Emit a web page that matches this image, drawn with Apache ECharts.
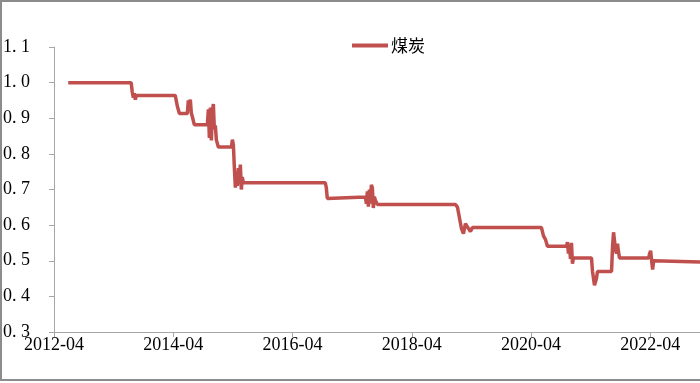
<!DOCTYPE html>
<html>
<head>
<meta charset="utf-8">
<script src="https://cdn.jsdelivr.net/npm/echarts@6/dist/echarts.min.js"></script>
<style>html,body{margin:0;padding:0;background:#fff}#c{width:700px;height:383px}</style>
</head>
<body>
<div id="c"></div>
<script>
const seriesName = '煤炭';
const dates = [
'2012-06-27','2013-07-17','2013-07-23','2013-07-30','2013-08-06','2013-08-12','2013-08-18',
'2014-04-13','2014-04-25','2014-05-08','2014-06-26','2014-07-02','2014-07-08','2014-07-14','2014-07-20','2014-07-26','2014-08-08',
'2014-10-27','2014-11-03','2014-11-09','2014-11-15','2014-11-21','2014-11-27','2014-12-03','2014-12-09','2014-12-15','2014-12-21',
'2015-01-03','2015-03-22','2015-03-28','2015-04-04','2015-04-10','2015-04-16','2015-04-22','2015-04-28','2015-05-04','2015-05-10','2015-05-16','2015-05-22','2015-05-28','2015-06-04',
'2016-10-19','2016-10-25','2016-11-01','2016-11-08',
'2017-06-21','2017-06-27','2017-07-03','2017-07-09','2017-07-15','2017-07-21','2017-07-27','2017-08-03','2017-08-09','2017-08-15','2017-08-21','2017-09-04',
'2018-12-25','2019-01-07','2019-01-19','2019-02-01','2019-02-13','2019-02-25','2019-03-07','2019-03-19','2019-03-25','2019-04-07',
'2020-06-04','2020-06-16','2020-06-28','2020-07-10',
'2020-11-05','2020-11-11','2020-11-17','2020-11-23','2020-11-29','2020-12-05','2020-12-11','2020-12-17',
'2021-04-06','2021-04-12','2021-04-24','2021-05-06','2021-05-12',
'2021-08-07','2021-08-13','2021-08-19','2021-08-25','2021-09-01','2021-09-07','2021-09-13','2021-09-19','2021-09-25',
'2022-03-21','2022-03-27','2022-04-03','2022-04-09','2022-04-15','2022-04-21','2022-05-03','2023-02-17'
];
const values = [
1.000,1.000,0.975,0.958,0.970,0.952,0.964,
0.964,0.935,0.913,0.913,0.950,0.940,0.952,0.915,0.905,0.882,
0.882,0.925,0.845,0.930,0.838,0.920,0.940,0.870,0.880,0.840,
0.819,0.819,0.840,0.825,0.760,0.705,0.740,0.710,0.760,0.715,0.770,0.700,0.735,0.719,
0.719,0.705,0.675,0.679,
0.679,0.660,0.695,0.652,0.700,0.660,0.713,0.705,0.648,0.680,0.670,0.658,
0.658,0.650,0.620,0.590,0.576,0.604,0.595,0.598,0.582,0.593,
0.593,0.570,0.560,0.541,
0.541,0.552,0.520,0.545,0.505,0.550,0.492,0.508,
0.508,0.470,0.431,0.450,0.470,
0.470,0.540,0.580,0.575,0.530,0.520,0.548,0.525,0.508,
0.508,0.520,0.528,0.500,0.475,0.500,0.496,0.496
];
const xTickLabels = ['2012-04','2014-04','2016-04','2018-04','2020-04','2022-04'];
const yTicks = [0.3,0.4,0.5,0.6,0.7,0.8,0.9,1.0,1.1];

function monthOffset(s){
  const p = s.split('-').map(Number);
  return (p[0]-2012)*12 + (p[1]-4) + (p[2]-1)/30;
}
const data = dates.map((d,i)=>[monthOffset(d), values[i]]);

const chart = echarts.init(document.getElementById('c'), null, {renderer:'canvas'});
const axisColor = '#a6a6a6';
const labelFont = {fontFamily:'Liberation Serif', fontSize:18, color:'#000'};
chart.setOption({
  animation:false,
  backgroundColor:'#fff',
  grid:{left:54, right:0, top:47, bottom:51, containLabel:false},
  legend:{
    data:[seriesName], left:352, top:37, icon:'rect', itemWidth:36, itemHeight:4, itemGap:10, padding:0,
    textStyle:{fontFamily:'Noto Sans CJK SC', fontSize:17, color:'#000', padding:[0,0,0,-2]}
  },
  xAxis:{
    type:'value', min:0, max:130, interval:24,
    axisLine:{show:true, lineStyle:{color:axisColor, width:1}},
    axisTick:{show:true, inside:false, length:5, lineStyle:{color:axisColor}},
    splitLine:{show:false},
    axisLabel:Object.assign({margin:4, formatter:(v)=>xTickLabels[Math.round(v/24)] || ''}, labelFont)
  },
  yAxis:{
    type:'value', min:yTicks[0], max:yTicks[yTicks.length-1], interval:0.1,
    axisLine:{show:true, lineStyle:{color:axisColor, width:1}},
    axisTick:{show:true, inside:false, length:5, lineStyle:{color:axisColor}},
    splitLine:{show:false},
    axisLabel:Object.assign({margin:51, align:'left', formatter:(v)=>v.toFixed(1).replace('.', '. ')}, labelFont)
  },
  series:[{
    name:seriesName, type:'line', data:data, showSymbol:false, symbol:'none',
    lineStyle:{color:'#c0504d', width:3.5}, itemStyle:{color:'#c0504d'}
  }],
  graphic:[{
    type:'rect', shape:{x:1, y:1, width:702, height:379},
    style:{fill:'none', stroke:'#8c8c8c', lineWidth:2}, z:100, silent:true
  }]
});
</script>
</body>
</html>
